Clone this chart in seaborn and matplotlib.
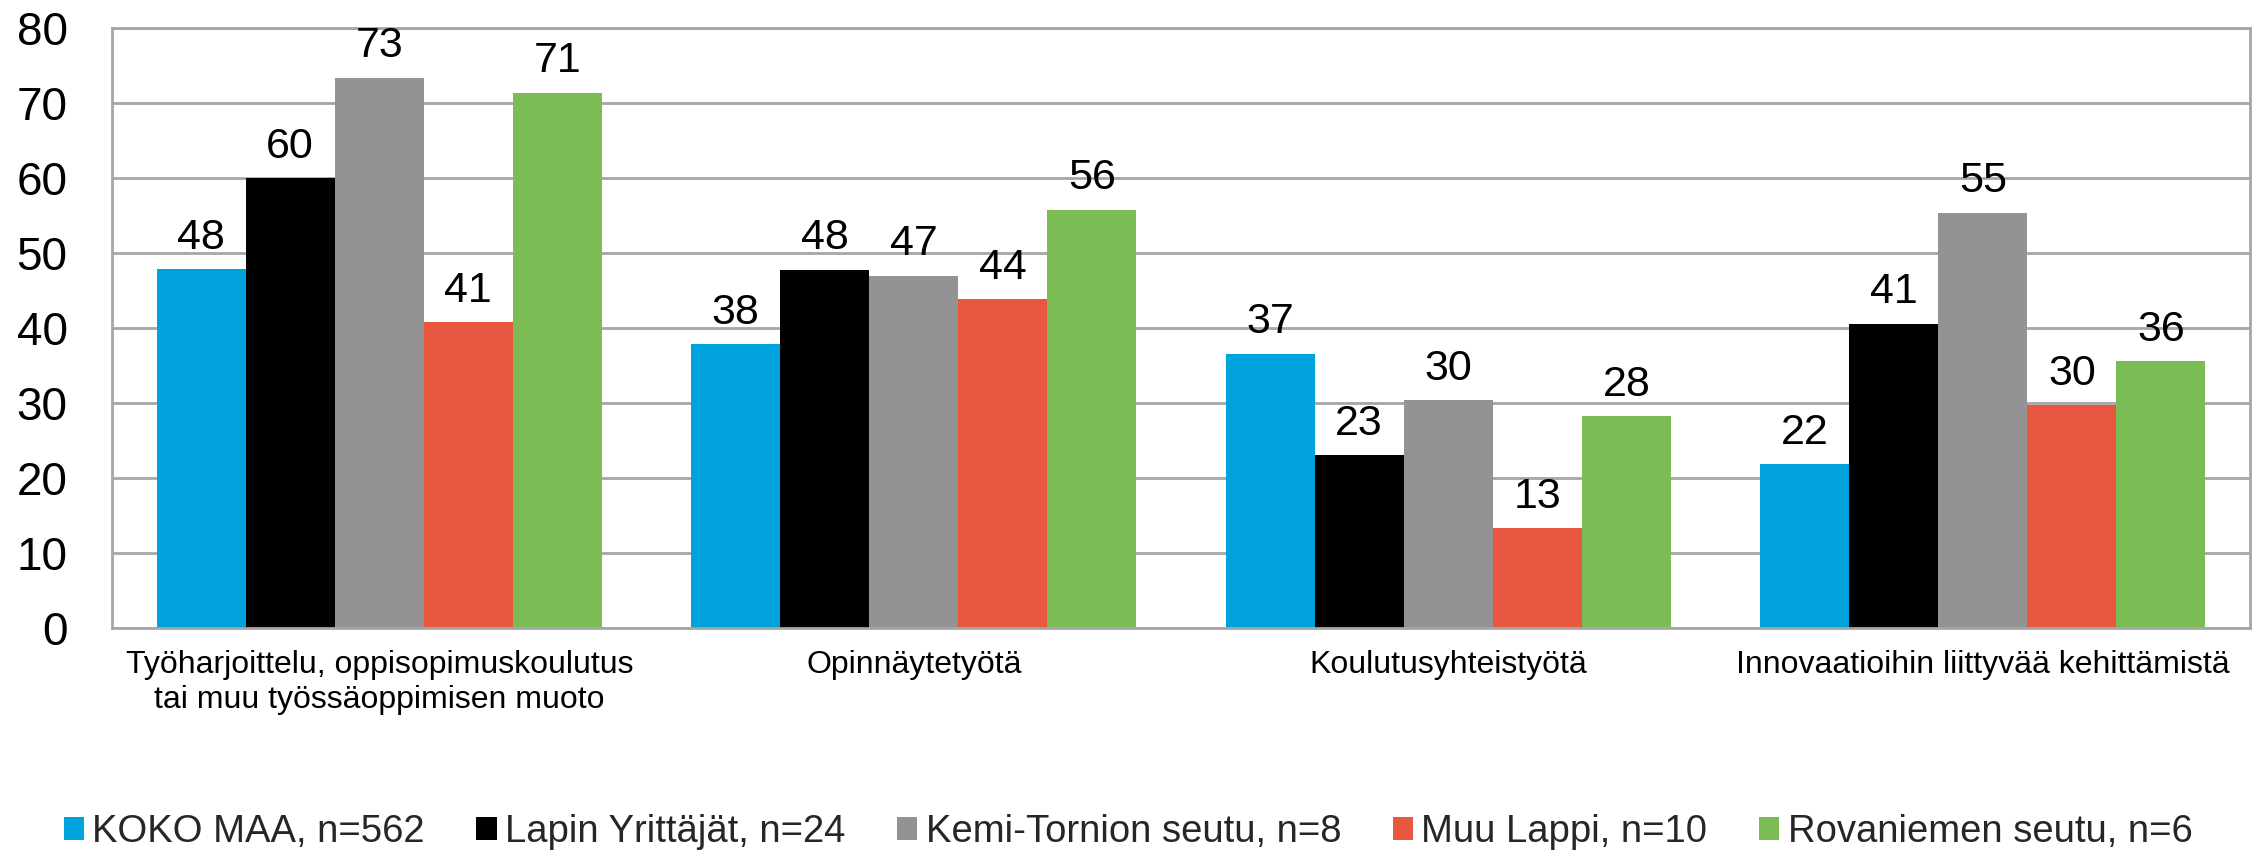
import matplotlib
matplotlib.use("Agg")
import matplotlib.pyplot as plt
import seaborn as sns
import pandas as pd
from matplotlib.patches import Patch

categories = ["Työharjoittelu, oppisopimuskoulutus\ntai muu työssäoppimisen muoto",
              "Opinnäytetyötä", "Koulutusyhteistyötä",
              "Innovaatioihin liittyvää kehittämistä"]
series = ["KOKO MAA, n=562", "Lapin Yrittäjät, n=24", "Kemi-Tornion seutu, n=8",
          "Muu Lappi, n=10", "Rovaniemen seutu, n=6"]
koko_maa = [47.9, 37.9, 36.6, 21.9]
lapin_yrittajat = [60.0, 47.8, 23.1, 40.6]
kemi_tornio = [73.4, 47.0, 30.4, 55.4]
muu_lappi = [40.8, 43.9, 13.3, 29.7]
rovaniemi = [71.4, 55.8, 28.3, 35.6]
colors = ["#00A3DB", "#000000", "#939393", "#E85840", "#7BBC55"]

values = [koko_maa, lapin_yrittajat, kemi_tornio, muu_lappi, rovaniemi]
rows = []
for s, vals in zip(series, values):
    for c, v in zip(categories, vals):
        rows.append({"cat": c, "series": s, "value": v})
df = pd.DataFrame(rows)

sns.set_theme(style="white")
plt.rcParams['font.family'] = ['Liberation Sans', 'DejaVu Sans']

fig = plt.figure(figsize=(22.6, 8.52), dpi=100)
ax = fig.add_axes([112/2260, 1-628/852, 2138/2260, 600/852])

sns.barplot(data=df, x="cat", y="value", hue="series", order=categories,
            hue_order=series, palette=colors, width=0.833, gap=0,
            saturation=1, linewidth=0, edgecolor="none", ax=ax, legend=False)

for cont in ax.containers:
    ax.bar_label(cont, fmt="%.0f", padding=8, fontsize=31, color="black")

ax.set_ylim(0, 80)
ax.set_yticks(range(0, 81, 10))
ax.set_xlim(-0.5, len(categories) - 0.5)
ax.grid(axis="y", color="#A6A6A6", linewidth=2)
ax.set_axisbelow(True)
for sp in ax.spines.values():
    sp.set_visible(True)
    sp.set_color("#A6A6A6")
    sp.set_linewidth(2)
ax.tick_params(axis="y", length=0, pad=32, labelsize=33, labelcolor="black")
ax.tick_params(axis="x", length=0, pad=16, labelsize=23, labelcolor="black")
ax.set_xlabel("")
ax.set_ylabel("")

handles = [Patch(facecolor=c, edgecolor="none") for c in colors]
fig.legend(handles, series, loc="center", bbox_to_anchor=(1128/2260, 1-832/852),
           ncol=5, frameon=False, fontsize=27.5, handlelength=0.53,
           handleheight=0.53, handletextpad=0.22, columnspacing=1.35,
           borderpad=0.2)

fig.savefig("out.png", dpi=100)
